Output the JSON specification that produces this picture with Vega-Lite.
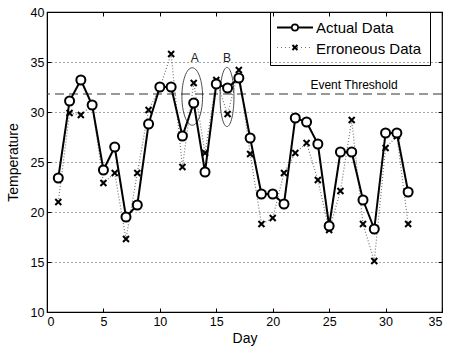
{
  "$schema": "https://vega.github.io/schema/vega-lite/v6.json",
  "width": 395,
  "height": 300,
  "autosize": {"type": "none"},
  "padding": {"left": 47, "top": 12, "right": 8, "bottom": 40},
  "background": "white",
  "config": {
    "font": "Liberation Sans",
    "view": {"stroke": "black", "strokeWidth": 1.2},
    "axis": {"labelFont": "Liberation Sans", "titleFont": "Liberation Sans", "labelColor": "black", "titleColor": "black", "domainColor": "black", "tickColor": "black", "labelFontSize": 12.5, "titleFontSize": 14, "titleFontWeight": "normal", "tickSize": -4, "labelPadding": 7}
  },
  "datasets": {
    "temps": [
      {"day": 1, "Actual Data": 23.4, "Erroneous Data": 21.0},
      {"day": 2, "Actual Data": 31.1, "Erroneous Data": 29.9},
      {"day": 3, "Actual Data": 33.2, "Erroneous Data": 29.7},
      {"day": 4, "Actual Data": 30.7, "Erroneous Data": 30.7},
      {"day": 5, "Actual Data": 24.2, "Erroneous Data": 22.9},
      {"day": 6, "Actual Data": 26.5, "Erroneous Data": 23.9},
      {"day": 7, "Actual Data": 19.5, "Erroneous Data": 17.3},
      {"day": 8, "Actual Data": 20.7, "Erroneous Data": 23.9},
      {"day": 9, "Actual Data": 28.8, "Erroneous Data": 30.2},
      {"day": 10, "Actual Data": 32.5, "Erroneous Data": 32.4},
      {"day": 11, "Actual Data": 32.5, "Erroneous Data": 35.8},
      {"day": 12, "Actual Data": 27.6, "Erroneous Data": 24.5},
      {"day": 13, "Actual Data": 30.9, "Erroneous Data": 32.9},
      {"day": 14, "Actual Data": 24.0, "Erroneous Data": 25.9},
      {"day": 15, "Actual Data": 32.8, "Erroneous Data": 33.2},
      {"day": 16, "Actual Data": 32.4, "Erroneous Data": 29.8},
      {"day": 17, "Actual Data": 33.4, "Erroneous Data": 34.2},
      {"day": 18, "Actual Data": 27.4, "Erroneous Data": 25.8},
      {"day": 19, "Actual Data": 21.8, "Erroneous Data": 18.8},
      {"day": 20, "Actual Data": 21.8, "Erroneous Data": 19.4},
      {"day": 21, "Actual Data": 20.8, "Erroneous Data": 23.9},
      {"day": 22, "Actual Data": 29.4, "Erroneous Data": 25.9},
      {"day": 23, "Actual Data": 29.0, "Erroneous Data": 26.9},
      {"day": 24, "Actual Data": 26.8, "Erroneous Data": 23.2},
      {"day": 25, "Actual Data": 18.6, "Erroneous Data": 18.2},
      {"day": 26, "Actual Data": 26.0, "Erroneous Data": 22.1},
      {"day": 27, "Actual Data": 26.0, "Erroneous Data": 29.2},
      {"day": 28, "Actual Data": 21.2, "Erroneous Data": 18.8},
      {"day": 29, "Actual Data": 18.3, "Erroneous Data": 15.1},
      {"day": 30, "Actual Data": 27.9, "Erroneous Data": 26.4},
      {"day": 31, "Actual Data": 27.9, "Erroneous Data": 27.6},
      {"day": 32, "Actual Data": 22.0, "Erroneous Data": 18.8}
    ],
    "annotations": [
      {"label": "A", "day": 12.87, "temp": 31.55, "labelDay": 13.1, "labelTemp": 35.4},
      {"label": "B", "day": 15.95, "temp": 31.5, "labelDay": 15.95, "labelTemp": 35.4}
    ],
    "threshold": [
      {"name": "Event Threshold", "value": 31.8, "labelDay": 27.2}
    ],
    "key": [{}]
  },
  "resolve": {"axis": {"x": "independent", "y": "independent"}},
  "layer": [
    {
      "data": {"name": "threshold"},
      "mark": {"type": "rule", "stroke": "#333", "strokeWidth": 1.2, "strokeDash": [9, 5]},
      "encoding": {
        "y": {"field": "value", "type": "quantitative", "scale": {"domain": [10, 40], "nice": false, "zero": false}, "axis": null}
      }
    },
    {
      "data": {"name": "threshold"},
      "mark": {"type": "text", "fontSize": 12, "baseline": "bottom", "dy": -2, "color": "black"},
      "encoding": {
        "x": {"field": "labelDay", "type": "quantitative", "scale": {"domain": [0, 35], "nice": false, "zero": false}, "axis": null},
        "y": {"field": "value", "type": "quantitative", "scale": {"domain": [10, 40], "nice": false, "zero": false}, "axis": null},
        "text": {"field": "name"}
      }
    },
    {
      "data": {"name": "temps"},
      "mark": {"type": "line", "stroke": "#777777", "strokeWidth": 1.2, "strokeDash": [1, 2]},
      "encoding": {
        "x": {"field": "day", "type": "quantitative", "scale": {"domain": [0, 35], "nice": false, "zero": false}, "axis": null},
        "y": {"field": "Erroneous Data", "type": "quantitative", "scale": {"domain": [10, 40], "nice": false, "zero": false}, "axis": null}
      }
    },
    {
      "data": {"name": "temps"},
      "mark": {"type": "line", "stroke": "black", "strokeWidth": 2},
      "encoding": {
        "x": {"field": "day", "type": "quantitative", "scale": {"domain": [0, 35], "nice": false, "zero": false}, "axis": null},
        "y": {"field": "Actual Data", "type": "quantitative", "scale": {"domain": [10, 40], "nice": false, "zero": false}, "axis": null}
      }
    },
    {
      "data": {"name": "temps"},
      "transform": [{"fold": ["Erroneous Data", "Actual Data"], "as": ["series", "temp"]}],
      "mark": {"type": "point", "fill": "white", "filled": false, "stroke": "black", "strokeWidth": 2, "opacity": 1, "size": 100},
      "encoding": {
        "x": {"field": "day", "type": "quantitative", "scale": {"domain": [0, 35], "nice": false, "zero": false},
              "axis": {"title": "Day", "values": [0, 5, 10, 15, 20, 25, 30, 35], "grid": false, "titlePadding": 4}},
        "y": {"field": "temp", "type": "quantitative", "scale": {"domain": [10, 40], "nice": false, "zero": false},
              "axis": {"title": "Temperature", "values": [10, 15, 20, 25, 30, 35, 40], "grid": true, "gridColor": "black", "gridDash": [1, 3], "gridOpacity": 0.7, "titlePadding": 10}},
        "shape": {"field": "series", "type": "nominal", "scale": {"domain": ["Actual Data", "Erroneous Data"], "range": ["M0.9,0A0.9,0.9 0 1,1 -0.9,0A0.9,0.9 0 1,1 0.9,0Z", "M-0.6,-0.6L0.6,0.6M-0.6,0.6L0.6,-0.6"]},
          "legend": {
            "title": null, "orient": "none", "legendX": 223, "legendY": 0,
            "strokeColor": "black", "padding": 8,
            "labelFont": "Liberation Sans", "labelFontSize": 15, "labelColor": "black",
            "symbolSize": 49, "symbolOffset": 14, "labelOffset": 9, "rowPadding": 5,
            "symbolOpacity": 0,
            "encode": {"symbols": {"update": {"opacity": {"value": 0}}}}
          }},
        "order": {"field": "series", "type": "nominal", "sort": "descending"}
      }
    },
    {
      "data": {"name": "key"},
      "mark": {"type": "rule", "stroke": "black", "strokeWidth": 2},
      "encoding": {
        "x": {"datum": 20.38, "type": "quantitative", "scale": {"domain": [0, 35], "nice": false, "zero": false}, "axis": null},
        "x2": {"datum": 23.57},
        "y": {"datum": 38.45, "type": "quantitative", "scale": {"domain": [10, 40], "nice": false, "zero": false}, "axis": null}
      }
    },
    {
      "data": {"name": "key"},
      "mark": {"type": "point", "shape": "circle", "size": 40, "fill": "white", "filled": false, "stroke": "black", "strokeWidth": 1.6, "opacity": 1},
      "encoding": {
        "x": {"datum": 21.97, "type": "quantitative", "scale": {"domain": [0, 35], "nice": false, "zero": false}, "axis": null},
        "y": {"datum": 38.45, "type": "quantitative", "scale": {"domain": [10, 40], "nice": false, "zero": false}, "axis": null}
      }
    },
    {
      "data": {"name": "key"},
      "mark": {"type": "rule", "stroke": "#777777", "strokeWidth": 1.2, "strokeDash": [1, 3]},
      "encoding": {
        "x": {"datum": 20.38, "type": "quantitative", "scale": {"domain": [0, 35], "nice": false, "zero": false}, "axis": null},
        "x2": {"datum": 23.57},
        "y": {"datum": 36.45, "type": "quantitative", "scale": {"domain": [10, 40], "nice": false, "zero": false}, "axis": null}
      }
    },
    {
      "data": {"name": "key"},
      "mark": {"type": "point", "shape": "M-1,-1L1,1M-1,1L1,-1", "size": 25, "filled": false, "stroke": "black", "strokeWidth": 2, "opacity": 1},
      "encoding": {
        "x": {"datum": 21.97, "type": "quantitative", "scale": {"domain": [0, 35], "nice": false, "zero": false}, "axis": null},
        "y": {"datum": 36.45, "type": "quantitative", "scale": {"domain": [10, 40], "nice": false, "zero": false}, "axis": null}
      }
    },
    {
      "data": {"name": "annotations"},
      "transform": [{"filter": "datum.label === 'A'"}],
      "mark": {"type": "point", "shape": "M0,-1A0.36,1 0 1,1 0,1A0.36,1 0 1,1 0,-1", "size": 3300, "stroke": "black", "strokeWidth": 1, "filled": false},
      "encoding": {
        "x": {"field": "day", "type": "quantitative", "scale": {"domain": [0, 35], "nice": false, "zero": false}, "axis": null},
        "y": {"field": "temp", "type": "quantitative", "scale": {"domain": [10, 40], "nice": false, "zero": false}, "axis": null}
      }
    },
    {
      "data": {"name": "annotations"},
      "transform": [{"filter": "datum.label === 'B'"}],
      "mark": {"type": "point", "shape": "M0,-1A0.235,1 0 1,1 0,1A0.235,1 0 1,1 0,-1", "size": 3500, "stroke": "black", "strokeWidth": 1, "filled": false},
      "encoding": {
        "x": {"field": "day", "type": "quantitative", "scale": {"domain": [0, 35], "nice": false, "zero": false}, "axis": null},
        "y": {"field": "temp", "type": "quantitative", "scale": {"domain": [10, 40], "nice": false, "zero": false}, "axis": null}
      }
    },
    {
      "data": {"name": "annotations"},
      "mark": {"type": "text", "fontSize": 12, "color": "#222", "baseline": "middle"},
      "encoding": {
        "x": {"field": "labelDay", "type": "quantitative", "scale": {"domain": [0, 35], "nice": false, "zero": false},
              "axis": {"orient": "top", "labels": false, "title": null, "domain": false, "grid": false, "values": [0, 5, 10, 15, 20, 25, 30, 35]}},
        "y": {"field": "labelTemp", "type": "quantitative", "scale": {"domain": [10, 40], "nice": false, "zero": false},
              "axis": {"orient": "right", "labels": false, "title": null, "domain": false, "grid": false, "values": [10, 15, 20, 25, 30, 35, 40]}},
        "text": {"field": "label"}
      }
    }
  ]
}
